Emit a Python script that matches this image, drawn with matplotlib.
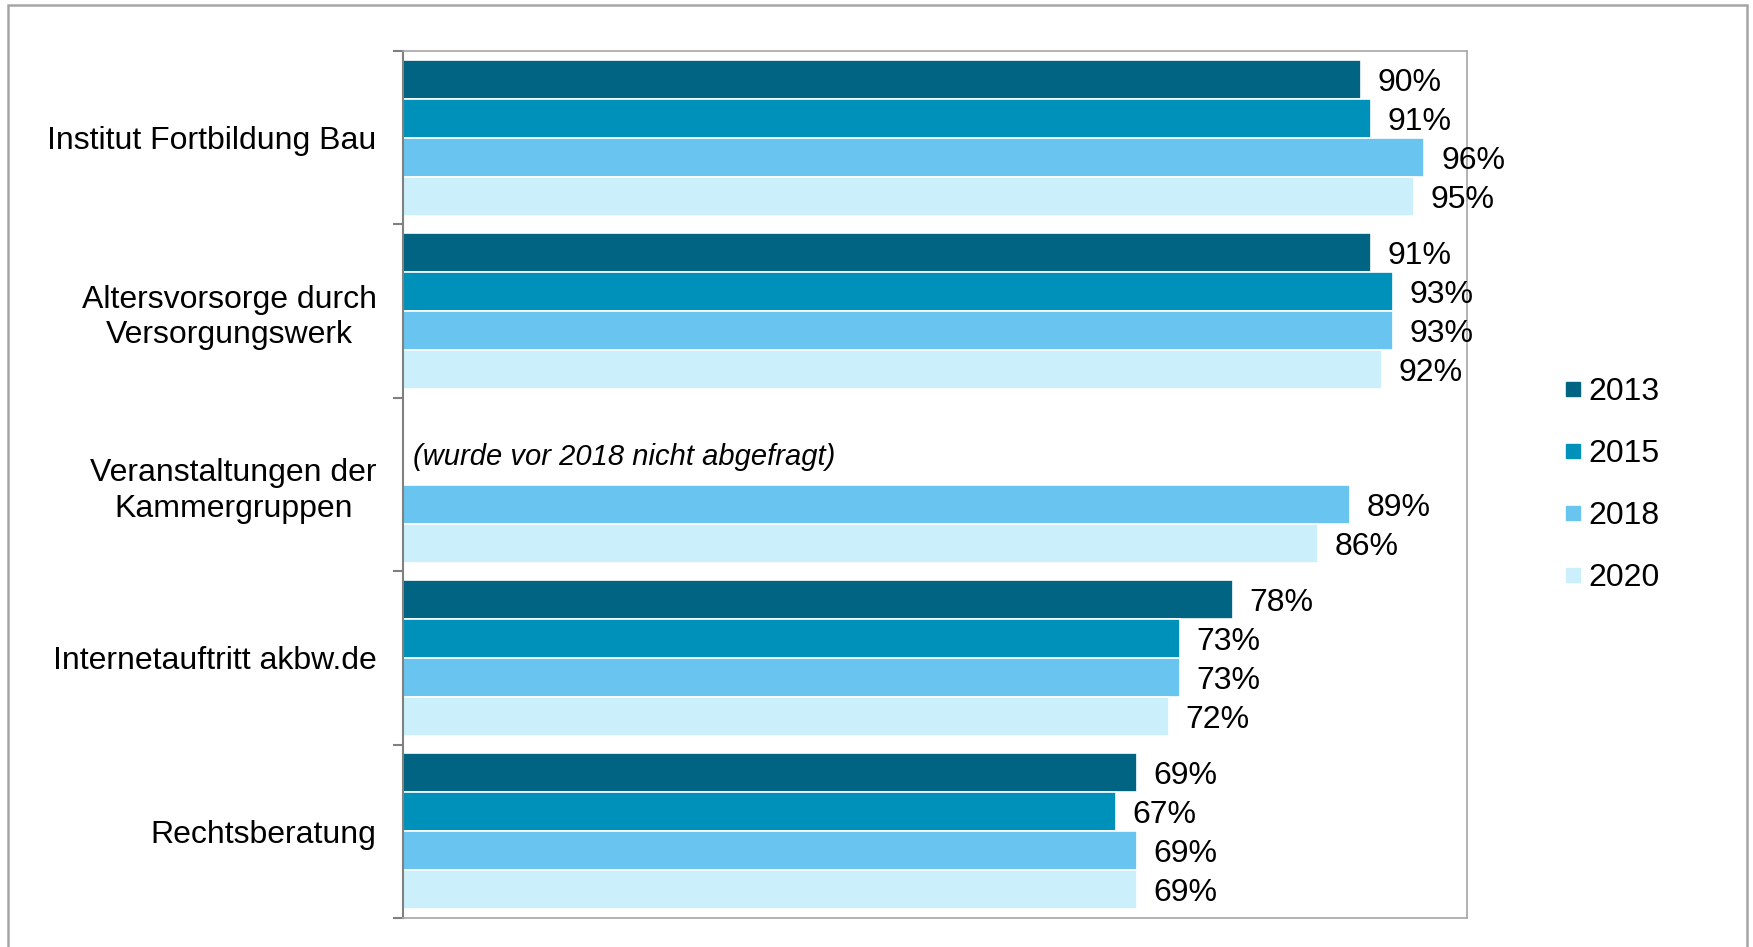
import numpy as np
import matplotlib.pyplot as plt
from matplotlib.lines import Line2D
from matplotlib.patches import Rectangle

plt.rcParams['font.family'] = ['Liberation Sans', 'DejaVu Sans']

categories = [
    "Institut Fortbildung Bau",
    "Altersvorsorge durch\nVersorgungswerk",
    "Veranstaltungen der\nKammergruppen",
    "Internetauftritt akbw.de",
    "Rechtsberatung",
]
years = ["2013", "2015", "2018", "2020"]
v2013 = [90, 91, np.nan, 78, 69]
v2015 = [91, 93, np.nan, 73, 67]
v2018 = [96, 93, 89, 73, 69]
v2020 = [95, 92, 86, 72, 69]
note = "(wurde vor 2018 nicht abgefragt)"

colors = ["#006482", "#0091bb", "#69c5ef", "#cbf0fb"]
series = [v2013, v2015, v2018, v2020]

fig = plt.figure(figsize=(17.53, 9.47), dpi=100)
ax = fig.add_axes([403 / 1753, 1 - 918 / 947, (1467 - 403) / 1753, (918 - 51) / 947])

n = len(categories)
pos = np.arange(n)
h = 0.225
for i, (vals, col) in enumerate(zip(series, colors)):
    y = pos - 1.5 * h + i * h
    vals = np.array(vals, dtype=float)
    ok = ~np.isnan(vals)
    ax.barh(y[ok], vals[ok], height=h, color=col, edgecolor='white', linewidth=1.2)
    for yy, vv in zip(y[ok], vals[ok]):
        ax.annotate(f"{vv:.0f}%", (vv, yy), xytext=(12, 0), textcoords='offset points',
                    ha='left', va='center_baseline', fontsize=23)

# note for the missing years in the third group
ax.annotate(note, (0, pos[2] - 0.16), xytext=(7, 0), textcoords='offset points',
            ha='left', va='center', fontsize=21, style='italic')

ax.set_xlim(0, 100)
ax.set_ylim(n - 0.5, -0.5)
ax.set_xticks([])
ax.set_yticks(pos)
ax.set_yticklabels(categories, fontsize=23, multialignment='center', linespacing=1.25)
ax.set_yticks(np.arange(n + 1) - 0.5, minor=True)
ax.tick_params(axis='y', which='major', length=0, pad=19)
ax.tick_params(axis='y', which='minor', length=7, width=1.5, color='#808080')
for s in ax.spines.values():
    s.set_color('#a6a6a6')
    s.set_linewidth(1.2)
ax.spines['left'].set_color('#808080')
ax.spines['left'].set_linewidth(1.5)

handles = [Line2D([], [], marker='s', linestyle='none', markersize=10,
                  markerfacecolor=c, markeredgecolor=c) for c in colors]
fig.legend(handles, years, loc='center left', bbox_to_anchor=(1563 / 1753, 1 - 485 / 947),
           frameon=False, fontsize=23, handlelength=0.6, handletextpad=0.2,
           labelspacing=1.0, borderpad=0, borderaxespad=0)

fig.patches.append(Rectangle((8 / 1753, -0.02), (1747 - 8) / 1753, 0.02 + 1 - 5 / 947,
                             transform=fig.transFigure, fill=False,
                             edgecolor='#a6a6a6', linewidth=1.8))

fig.savefig("out.png", dpi=100)
